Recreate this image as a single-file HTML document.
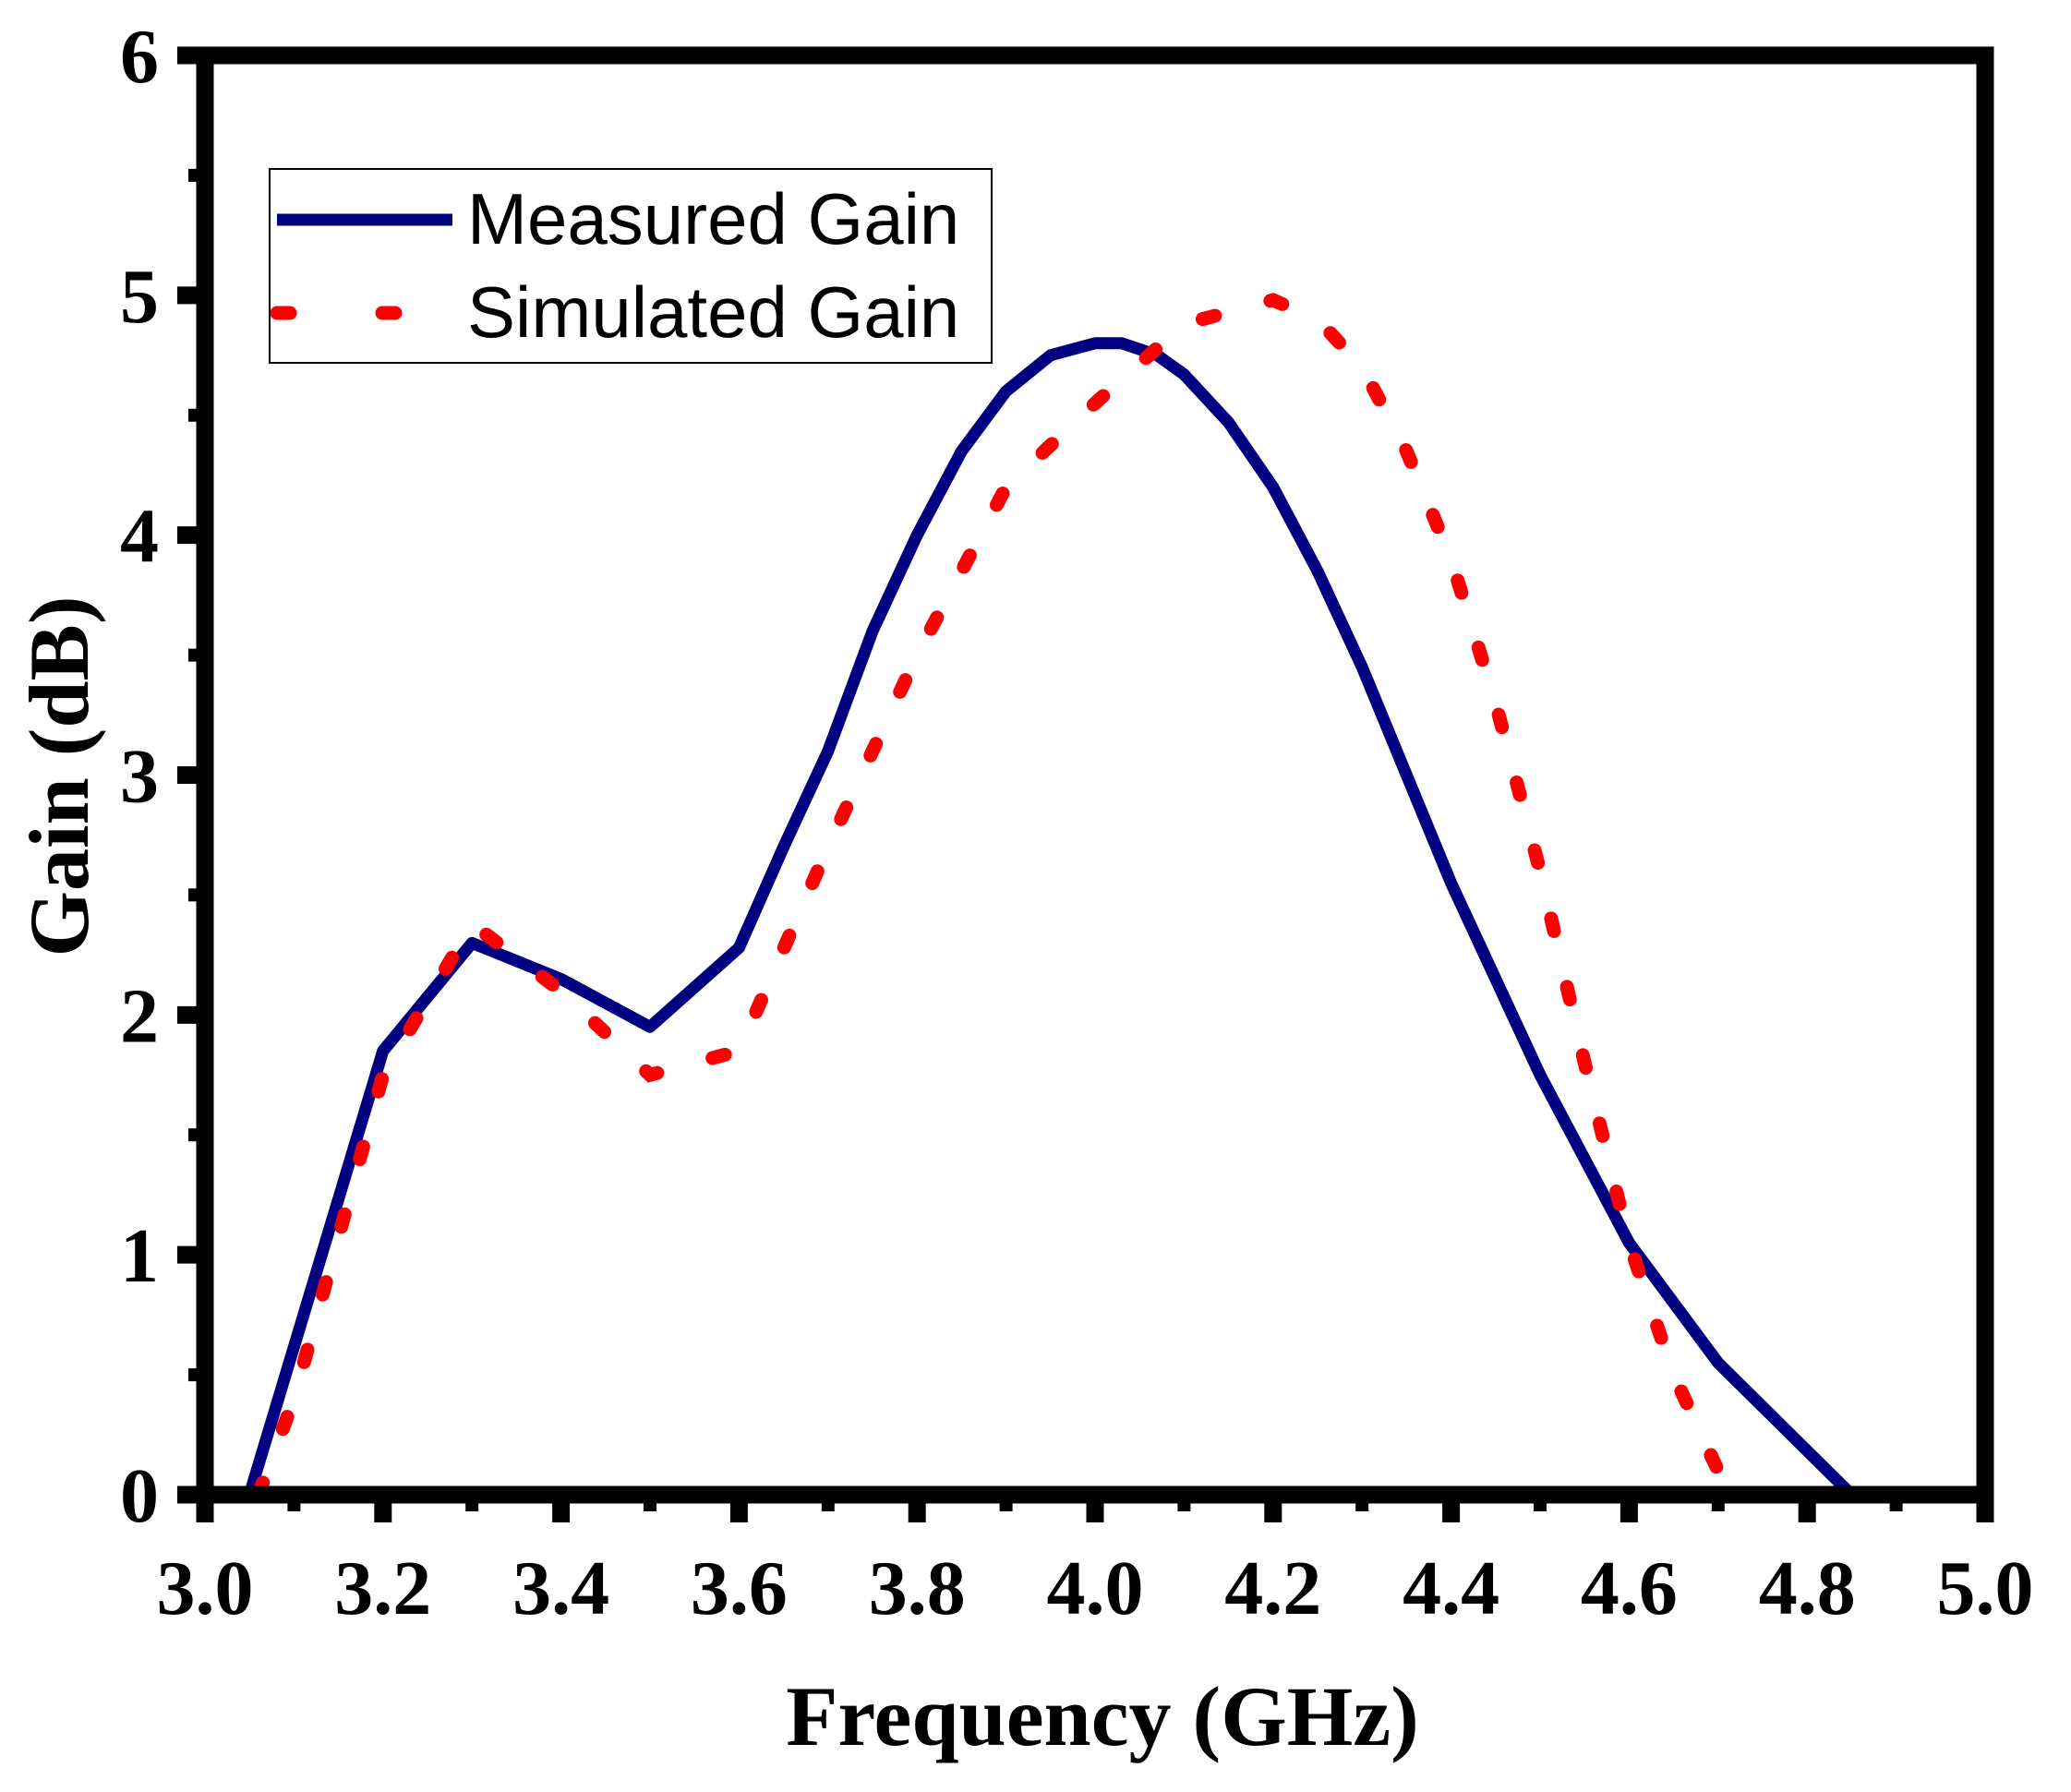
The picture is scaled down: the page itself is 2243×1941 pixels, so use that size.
<!DOCTYPE html>
<html><head><meta charset="utf-8"><style>
html,body{margin:0;padding:0;background:#fff;}
svg{display:block;}
</style></head><body>
<svg id="chart" width="2243" height="1941" xmlns="http://www.w3.org/2000/svg">
<g id="plot"></g>
</svg>
<script>
const xTicks = [3.0,3.2,3.4,3.6,3.8,4.0,4.2,4.4,4.6,4.8,5.0];
const yTicks = [0,1,2,3,4,5,6];
const measFreq = [3.05,3.2,3.3,3.4,3.5,3.6,3.65,3.7,3.75,3.8,3.85,3.9,3.95,4.0,4.03,4.07,4.1,4.15,4.2,4.25,4.3,4.35,4.4,4.5,4.6,4.7,4.85];
const measGain = [0,1.85,2.3,2.15,1.95,2.28,2.7,3.1,3.6,4.0,4.35,4.6,4.75,4.8,4.8,4.75,4.67,4.47,4.2,3.85,3.45,3.0,2.55,1.75,1.05,0.55,0];
const simFreq = [3.06,3.1,3.2,3.3,3.4,3.5,3.6,3.7,3.8,3.9,4.0,4.1,4.2,4.25,4.3,4.35,4.4,4.45,4.5,4.55,4.6,4.65,4.7];
const simGain = [0,0.4,1.75,2.38,2.1,1.75,1.85,2.7,3.5,4.2,4.55,4.88,4.98,4.9,4.7,4.35,3.9,3.3,2.6,1.8,1.05,0.5,0.1];

const L=222,R=2150,T=60,B=1619;
const xs=f=>L+(f-3)/2*(R-L);
const ys=g=>B-g/6*(B-T);
const NS='http://www.w3.org/2000/svg';
const g=document.getElementById('plot');
function mk(tag,attrs,parent){const e=document.createElementNS(NS,tag);for(const k in attrs)e.setAttribute(k,attrs[k]);(parent||g).appendChild(e);return e;}
function poly(xa,ya){return xa.map((x,i)=>(i?'L':'M')+xs(x)+','+ys(ya[i])).join(' ');}
const meas=mk('path',{d:poly(measFreq,measGain),fill:'none',stroke:'#000080','stroke-width':13,'stroke-linejoin':'round'});


const sim=mk('path',{d:poly(simFreq,simGain),fill:'none',stroke:'#ff0000','stroke-width':15,'stroke-dasharray':'14 62','stroke-linecap':'round'});


const fr=mk('rect',{x:L,y:T,width:R-L,height:B-T,fill:'none',stroke:'#000','stroke-width':19});


xTicks.forEach((t,i)=>{
  const x=xs(t);
  const tk=mk('line',{x1:x,x2:x,y1:B,y2:B+30,stroke:'#000','stroke-width':19});
  
  
  if(i<xTicks.length-1){
    const xm=xs(t+0.1);
    const mt=mk('line',{x1:xm,x2:xm,y1:B,y2:B+18,stroke:'#000','stroke-width':14});
    
    
  }
  const lb=mk('text',{x:x,y:1748,'text-anchor':'middle','font-family':'Liberation Serif, serif','font-weight':'bold','font-size':84});
  lb.textContent=t.toFixed(1);
  
  
});
yTicks.forEach((t,i)=>{
  const y=ys(t);
  const tk=mk('line',{x1:L-30,x2:L,y1:y,y2:y,stroke:'#000','stroke-width':19});
  
  
  if(i<yTicks.length-1){
    const ym=ys(t+0.5);
    const mt=mk('line',{x1:L-18,x2:L,y1:ym,y2:ym,stroke:'#000','stroke-width':14});
    
    
  }
  const lb=mk('text',{x:172,y:y+29,'text-anchor':'end','font-family':'Liberation Serif, serif','font-weight':'bold','font-size':84});
  lb.textContent=String(t);
  
  
});
const xt=mk('text',{x:1194,y:1890,'text-anchor':'middle','font-family':'Liberation Serif, serif','font-weight':'bold','font-size':92});
xt.textContent='Frequency (GHz)';


const yt=mk('text',{x:0,y:0,transform:'translate(95,841) rotate(-90)','text-anchor':'middle','font-family':'Liberation Serif, serif','font-weight':'bold','font-size':92});
yt.textContent='Gain (dB)';


const lg=mk('g',{});


mk('rect',{x:292,y:183,width:782,height:210,fill:'#fff',stroke:'#000','stroke-width':2},lg);
const l1=mk('line',{x1:300,x2:490,y1:238,y2:238,stroke:'#000080','stroke-width':13},lg);


const l2=mk('line',{x1:300,x2:490,y1:339,y2:339,stroke:'#ff0000','stroke-width':15,'stroke-dasharray':'14 100','stroke-linecap':'round'},lg);


const t1=mk('text',{x:506,y:264,'font-family':'Liberation Sans, sans-serif','font-size':78},lg);
t1.textContent='Measured Gain';


const t2=mk('text',{x:506,y:365,'font-family':'Liberation Sans, sans-serif','font-size':78},lg);
t2.textContent='Simulated Gain';


</script>
</body></html>
